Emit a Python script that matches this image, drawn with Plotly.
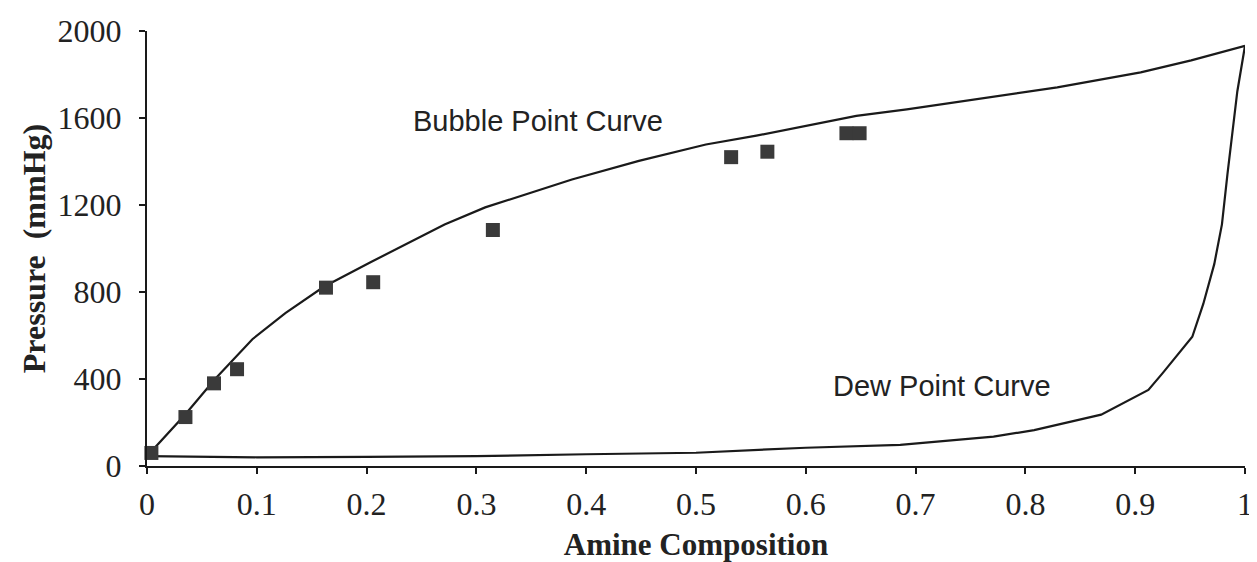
import plotly.graph_objects as go

# Bubble point curve (amine composition, pressure mmHg)
bubble_x = [0.0, 0.035, 0.062, 0.096, 0.126, 0.161, 0.204, 0.241, 0.271, 0.308, 0.387,
            0.448, 0.509, 0.555, 0.646, 0.692, 0.738, 0.829, 0.905, 0.951, 1.0]
bubble_p = [45, 238, 400, 583, 703, 824, 938, 1035, 1110, 1189, 1317,
            1403, 1478, 1519, 1610, 1640, 1675, 1741, 1810, 1865, 1932]

# Dew point curve
dew_x = [0.0, 0.1, 0.2, 0.3, 0.4, 0.5, 0.6, 0.686, 0.771, 0.808, 0.869, 0.912,
         0.925, 0.952, 0.962, 0.972, 0.979, 0.984, 0.993, 1.0]
dew_p = [45, 40, 42, 45, 54, 61, 84, 97, 135, 165, 236, 350,
         427, 594, 745, 928, 1111, 1341, 1722, 1932]

# Experimental points
exp_x = [0.004, 0.035, 0.061, 0.082, 0.163, 0.206, 0.315, 0.532, 0.565, 0.637, 0.649]
exp_p = [60, 225, 380, 445, 820, 845, 1085, 1420, 1445, 1530, 1530]

x_ticks = [0, 0.1, 0.2, 0.3, 0.4, 0.5, 0.6, 0.7, 0.8, 0.9, 1]
x_tick_labels = ["0", "0.1", "0.2", "0.3", "0.4", "0.5", "0.6", "0.7", "0.8", "0.9", "1"]
y_ticks = [0, 400, 800, 1200, 1600, 2000]
y_tick_labels = ["0", "400", "800", "1200", "1600", "2000"]

serif = "Liberation Serif, Times New Roman, serif"
sans = "Liberation Sans, Arial, sans-serif"
ink = "#1a1a1a"

fig = go.Figure()
fig.add_trace(go.Scatter(x=bubble_x, y=bubble_p, mode="lines", name="Bubble Point Curve",
                         line=dict(color=ink, width=2.2), cliponaxis=False, showlegend=False))
fig.add_trace(go.Scatter(x=dew_x, y=dew_p, mode="lines", name="Dew Point Curve",
                         line=dict(color=ink, width=2.2), cliponaxis=False, showlegend=False))
fig.add_trace(go.Scatter(x=exp_x, y=exp_p, mode="markers", name="Experimental",
                         marker=dict(symbol="square", size=14, color="#3a3a3a",
                                     line=dict(width=0)),
                         cliponaxis=False, showlegend=False))

fig.add_annotation(x=0.356, y=1587, text="Bubble Point Curve", showarrow=False,
                   font=dict(family=sans, size=29, color="#222"))
fig.add_annotation(x=0.724, y=368, text="Dew Point Curve", showarrow=False,
                   font=dict(family=sans, size=29, color="#222"))

# The page body adds an 8 px offset, so the figure is sized to fit the window.
fig.update_layout(
    width=1249, height=554,
    margin=dict(l=139, r=12, t=23, b=96),
    paper_bgcolor="white", plot_bgcolor="white",
    xaxis=dict(range=[0, 1], tickvals=x_ticks, ticktext=x_tick_labels, automargin=False,
               showgrid=False, zeroline=False, showline=True, linecolor=ink, linewidth=2,
               ticks="outside", ticklen=6, tickwidth=2, tickcolor=ink,
               ticklabelstandoff=3,
               tickfont=dict(family=serif, size=32, color="#222"),
               title=dict(text="Amine Composition", standoff=12,
                          font=dict(family=serif, size=31, color="#222", weight="bold"))),
    yaxis=dict(range=[0, 2000], tickvals=y_ticks, ticktext=y_tick_labels, automargin=False,
               showgrid=False, zeroline=False, showline=True, linecolor=ink, linewidth=2,
               ticks="outside", ticklen=6, tickwidth=2, tickcolor=ink,
               ticklabelstandoff=11,
               tickfont=dict(family=serif, size=32, color="#222"),
               title=dict(text="Pressure  (mmHg)", standoff=2,
                          font=dict(family=serif, size=32, color="#222", weight="bold"))),
)

fig.write_html("out.html")
